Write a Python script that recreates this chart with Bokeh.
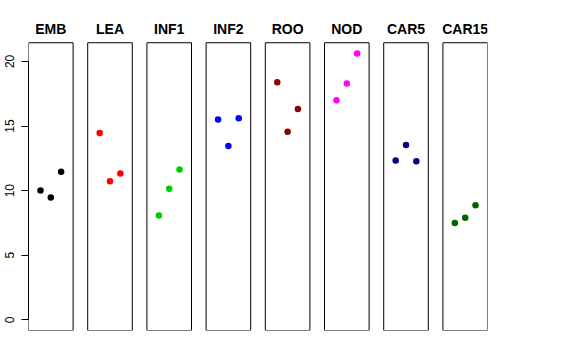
from bokeh.plotting import figure
from bokeh.models import ColumnDataSource, FixedTicker, Range1d
from bokeh.core.properties import value
from bokeh.embed import file_html
from bokeh.resources import INLINE

groups = ["EMB", "LEA", "INF1", "INF2", "ROO", "NOD", "CAR5", "CAR15"]
colors = ["#000000", "#FF0000", "#00CD00", "#0000FF", "#8B0000", "#FF00FF", "#00008B", "#006400"]
emb = [10.02, 9.47, 11.46]
lea = [14.47, 10.73, 11.33]
inf1 = [8.08, 10.14, 11.64]
inf2 = [15.50, 13.46, 15.60]
roo = [18.38, 14.55, 16.32]
nod = [16.99, 18.30, 20.62]
car5 = [12.33, 13.54, 12.28]
car15 = [7.49, 7.91, 8.86]
series = [emb, lea, inf1, inf2, roo, nod, car5, car15]
y_ticks = [0, 5, 10, 15, 20]

# layout constants
K = 5.735          # panel pitch in x units
xpad = 0.16
ymin = 0
ymax = max(max(s) for s in series)
ypad = 0.04 * (ymax - ymin)
ybot, ytop = ymin - ypad, ymax + ypad
title_y = ytop + 1.06
range_top = ytop + 2.11

p = figure(output_backend="svg", toolbar_location=None,
           frame_width=459, frame_height=288 + 27,
           min_border_left=28, min_border_right=10,
           min_border_top=15, min_border_bottom=10,
           x_range=Range1d(-xpad, 7 * K + 4 + xpad),
           y_range=Range1d(ybot, range_top))
p.outline_line_color = None
p.xgrid.visible = False
p.ygrid.visible = False
p.xaxis.visible = False
p.background_fill_color = "white"
p.border_fill_color = "white"

yax = p.yaxis[0]
yax.ticker = FixedTicker(ticks=y_ticks)
yax.bounds = (0, 20)
yax.major_label_orientation = "vertical"
yax.major_label_text_font = "Liberation Sans"
yax.major_label_text_font_size = "12px"
yax.major_label_text_color = "#000000"
yax.major_label_standoff = 7
yax.major_tick_out = 7
yax.major_tick_in = 0
yax.minor_tick_out = 0
yax.minor_tick_in = 0
yax.axis_line_color = "#000000"
yax.major_tick_line_color = "#000000"

lefts, rights, tx, ty = [], [], [], []
xs, ys, cs = [], [], []
for i, (g, c, s) in enumerate(zip(groups, colors, series)):
    lefts.append(i * K - xpad)
    rights.append(i * K + 4 + xpad)
    tx.append(i * K + 2)
    ty.append(title_y)
    for j, v in enumerate(s):
        xs.append(i * K + j + 1)
        ys.append(v)
        cs.append(c)

p.quad(left=lefts, right=rights, bottom=ybot, top=ytop,
       fill_color=None, line_color="#000000", line_width=1)
p.scatter(x=xs, y=ys, color=cs, size=6.5, marker="circle", line_width=0)
src = ColumnDataSource(dict(x=tx, y=ty, t=groups))
p.text(x="x", y="y", text="t", source=src, text_align="center",
       text_baseline="middle", text_font=value("Liberation Sans"),
       text_font_style="bold", text_font_size="14px", text_color="#000000")

open("out.html", "w").write(file_html(p, INLINE))
